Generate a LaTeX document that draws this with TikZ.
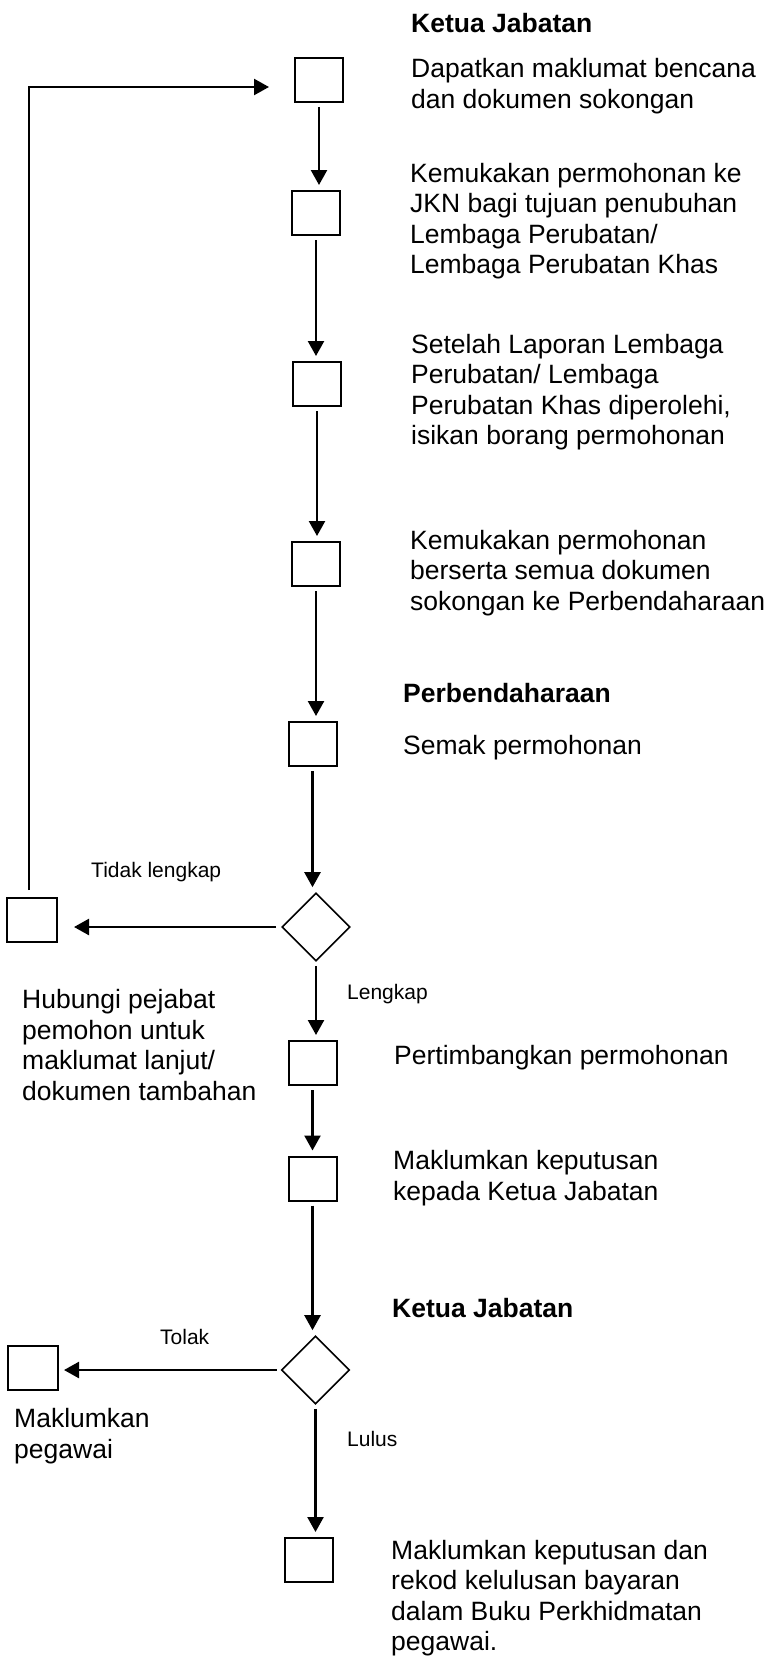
\documentclass[tikz,border=0pt]{standalone}
\usepackage{fontspec}
\setmainfont{Liberation Sans}
\usetikzlibrary{arrows.meta,shapes.geometric}
\begin{document}
\begin{tikzpicture}[x=1pt,y=-1pt,
 box/.style={draw,line width=2pt,minimum width=48pt,minimum height=44pt,inner sep=0},
 dia/.style={draw,diamond,line width=1.6pt,minimum width=68pt,minimum height=68pt,inner sep=0},
 txt/.style={anchor=west,align=left,inner sep=0,font=\fontsize{26.5}{30.5}\selectfont},
 head/.style={anchor=west,inner sep=0,font=\fontsize{26.5}{30.5}\selectfont\bfseries},
 lbl/.style={anchor=west,inner sep=0,font=\fontsize{21}{24}\selectfont},
 arr/.style={line width=2.4pt,-{Triangle[length=15pt,width=16pt]}},
 vlink/.style={arr,shorten <=4pt,shorten >=5pt}]
\useasboundingbox (0,0) rectangle (767,1659);
\node[head] (h1) at (411,23) {Ketua Jabatan};
\node[box] (b1) at (319,80) {};
\node[txt] (t1) at (411,86) {Dapatkan maklumat bencana\\dan dokumen sokongan};
\node[box] (b2) at (316,213) {};
\node[txt] (t2) at (410,221) {Kemukakan permohonan ke\\JKN bagi tujuan penubuhan\\Lembaga Perubatan/\\Lembaga Perubatan Khas};
\node[box] (b3) at (317,384) {};
\node[txt] (t3) at (411,392) {Setelah Laporan Lembaga\\Perubatan/ Lembaga\\Perubatan Khas diperolehi,\\isikan borang permohonan};
\node[box] (b4) at (316,564) {};
\node[txt] (t4) at (410,573) {Kemukakan permohonan\\berserta semua dokumen\\sokongan ke Perbendaharaan};
\node[head] (h2) at (403,693) {Perbendaharaan};
\node[box] (b5) at (312.5,744) {};
\node[txt] (t5) at (403,748) {Semak permohonan};
\node[dia] (d1) at (316,927) {};
\node[box,minimum width=50pt] (l1) at (32,920) {};
\node[lbl] (tl) at (91,872) {Tidak lengkap};
\node[txt] (t6) at (22,1045) {Hubungi pejabat\\pemohon untuk\\maklumat lanjut/\\dokumen tambahan};
\node[lbl] (ll) at (347,994) {Lengkap};
\node[box] (b6) at (312.5,1063) {};
\node[txt] (t7) at (394,1058) {Pertimbangkan permohonan};
\node[box] (b7) at (312.5,1178.5) {};
\node[txt] (t8) at (393,1178) {Maklumkan keputusan\\kepada Ketua Jabatan};
\node[head] (h3) at (392,1308) {Ketua Jabatan};
\node[dia] (d2) at (315.5,1370) {};
\node[box,minimum width=50pt] (l2) at (33,1367.5) {};
\node[lbl] (to) at (160,1337) {Tolak};
\node[txt] (t9) at (14,1436) {Maklumkan\\pegawai};
\node[lbl] (lu) at (347,1439) {Lulus};
\node[box] (b8) at (309,1560) {};
\node[txt] (t10) at (391,1598) {Maklumkan keputusan dan\\rekod kelulusan bayaran\\dalam Buku Perkhidmatan\\pegawai.};
\draw[vlink] (b1.south) -- (b1.south |- b2.north);
\draw[vlink] (b2.south) -- (b2.south |- b3.north);
\draw[vlink] (b3.south) -- (b3.south |- b4.north);
\draw[vlink] (b4.south) -- (b4.south |- b5.north);
\draw[vlink] (b5.south) -- (b5.south |- d1.north);
\draw[vlink] (d1.south) -- (d1.south |- b6.north);
\draw[vlink] (b6.south) -- (b6.south |- b7.north);
\draw[vlink] (b7.south) -- (b7.south |- d2.north);
\draw[vlink] (d2.south) -- (d2.south |- b8.north);
\draw[arr,shorten <=5pt,shorten >=16pt] (d1.west) -- (d1.west -| l1.east);
\draw[arr,shorten <=4pt,shorten >=5pt] (d2.west) -- (d2.west -| l2.east);
\draw[arr,shorten <=7pt,shorten >=25pt] ([xshift=-3pt]l1.north) |- ([yshift=-7pt]b1.west);
\end{tikzpicture}
\end{document}
